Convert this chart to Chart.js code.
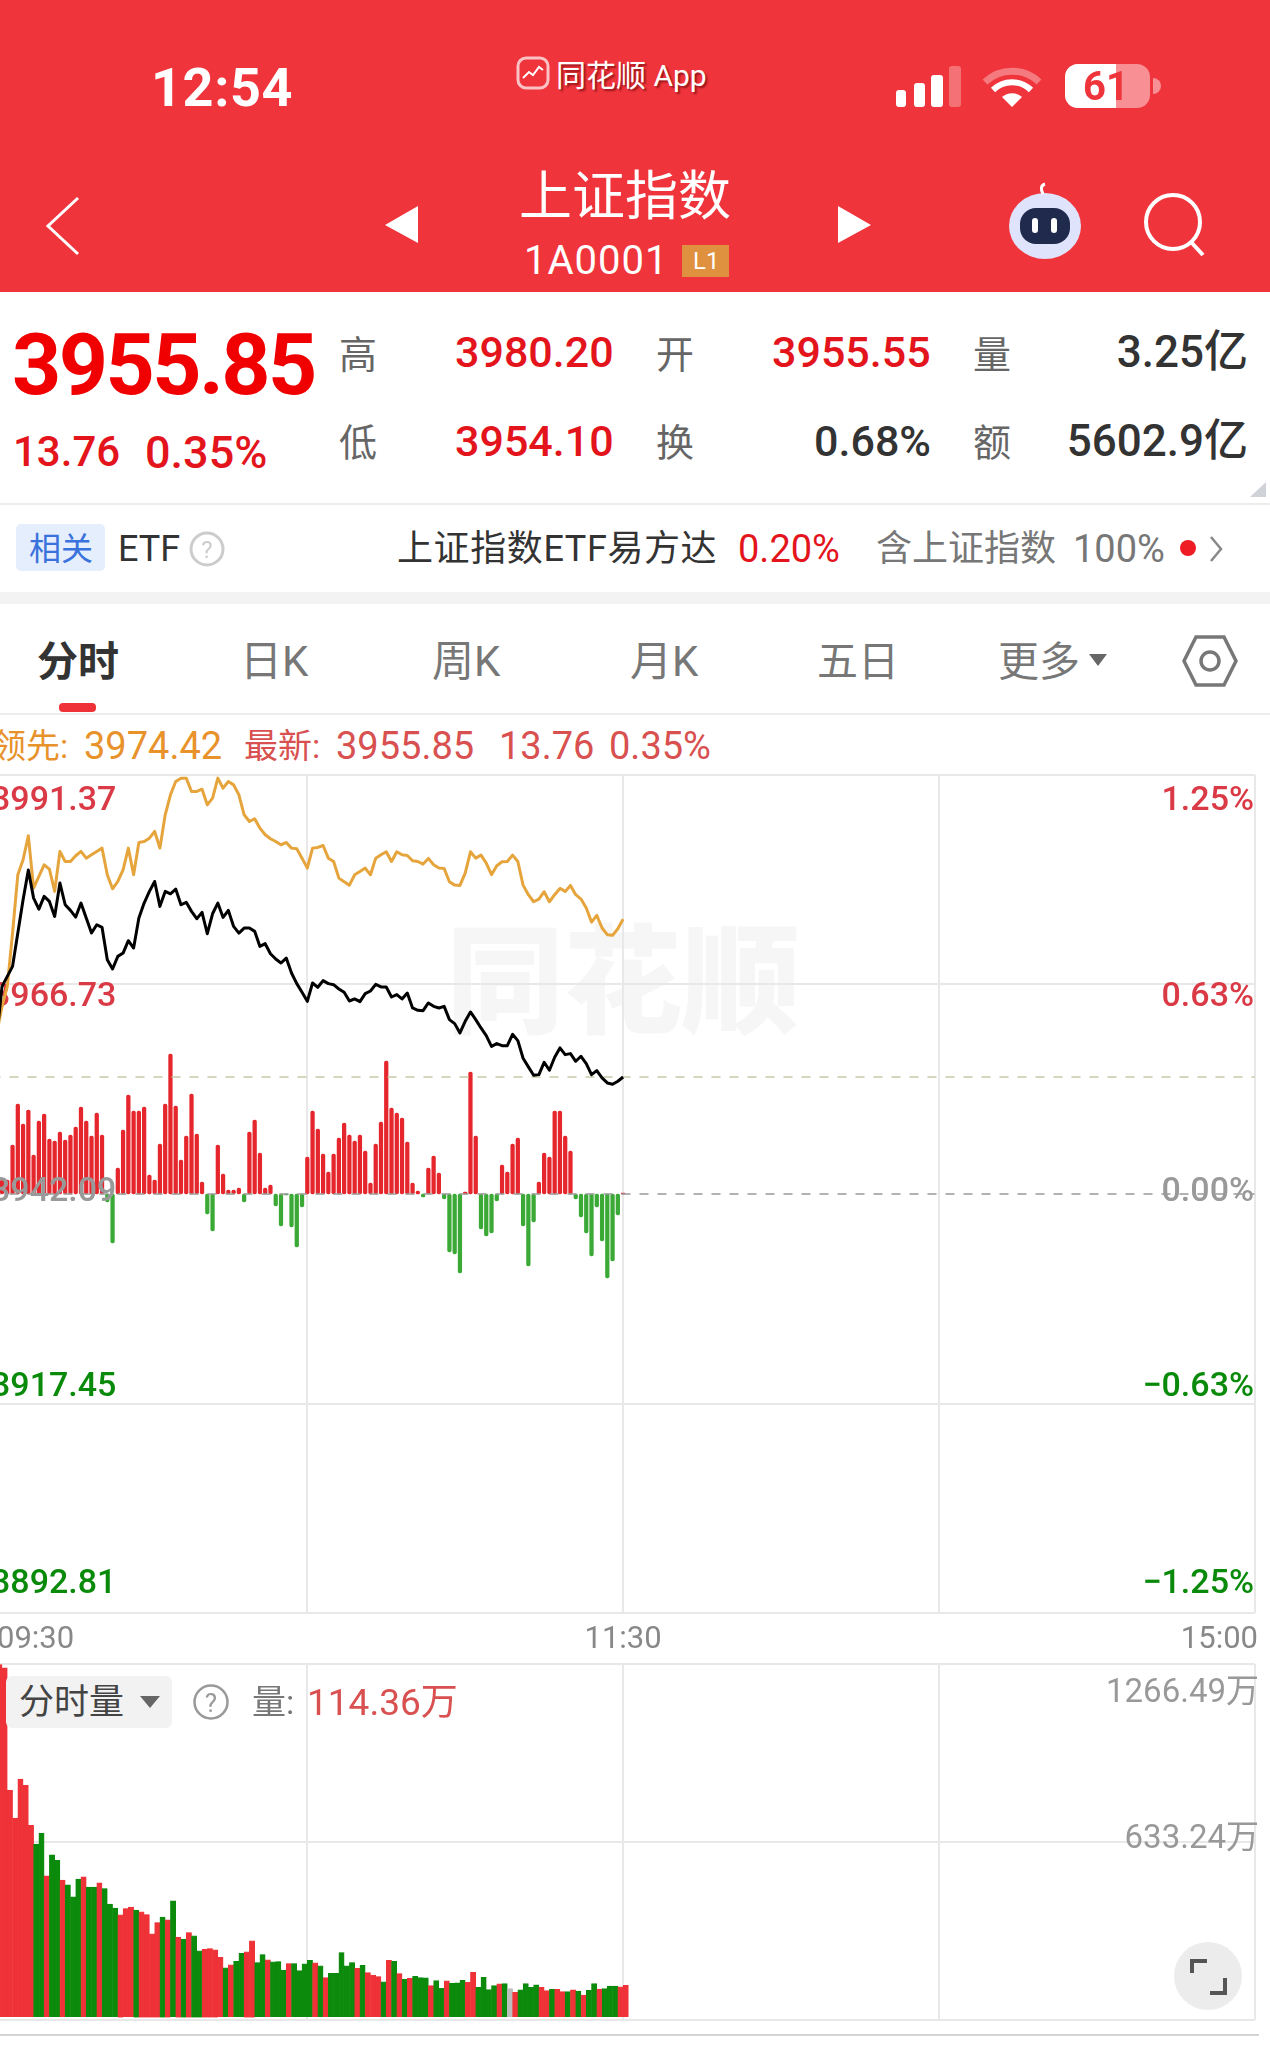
<!DOCTYPE html>
<html lang="zh-CN">
<head>
  <meta charset="UTF-8">
  <title>上证指数 分时</title>
  <script src="https://cdn.jsdelivr.net/npm/chart.js"></script>
  <style>
    html, body { margin: 0; padding: 0; background: #fff; }
    body { width: 1270px; height: 2060px; position: relative; overflow: hidden;
           font-family: Roboto, "Noto Sans CJK SC", sans-serif; }
    .t { position: absolute; white-space: pre; transform: translateY(-50%); line-height: 1; }
    .box { position: absolute; }
    svg { position: absolute; left: 0; top: 0; }
    canvas { position: absolute; display: block; }
    .num { color: #e3141c; font-size: 43px; font-weight: 500; }
    .dark { color: #333; font-size: 43px; font-weight: 500; }
    .lab { color: #666; font-size: 38px; }
    .tab { color: #777; font-size: 42px; }
  </style>
</head>
<body>
  <!-- header -->
  <div class="box" style="left:0;top:0;width:1270px;height:292px;background:#f0343c"></div>
  <div class="t" style="left:151px;top:88px;color:#fff;font-size:54px;font-weight:700;letter-spacing:.6px">12:54</div>
  <div class="t" style="left:556px;top:76px;color:#fff;font-size:30px;text-shadow:2px 2px 2px rgba(90,0,0,.6)">同花顺 App</div>
  <div class="t" style="left:519px;top:197px;color:#fff;font-size:53px">上证指数</div>
  <div class="t" style="left:524px;top:261px;color:#fff;font-size:40px;letter-spacing:1px">1A0001</div>
  <div class="box" style="left:682px;top:245px;width:47px;height:32px;background:#e0913f"></div>
  <div class="t" style="left:693px;top:261px;color:#fff;font-size:24px">L1</div>
  <div class="t" style="left:1083px;top:87px;color:#f0343c;font-size:40px;font-weight:700;z-index:2">61</div>

  <!-- quote block -->
  <div class="t" style="left:12px;top:365px;color:#f00000;font-size:86px;font-weight:700;letter-spacing:-2.6px">3955.85</div>
  <div class="t" style="left:13px;top:452px;color:#e3141c;font-size:42px;font-weight:500">13.76</div>
  <div class="t" style="left:145px;top:452px;color:#e3141c;font-size:45px;font-weight:500">0.35%</div>
  <div class="t lab" style="left:339px;top:355px">高</div>
  <div class="t num" style="left:455px;top:352px">3980.20</div>
  <div class="t lab" style="left:656px;top:355px">开</div>
  <div class="t num" style="left:772px;top:352px">3955.55</div>
  <div class="t lab" style="left:973px;top:355px">量</div>
  <div class="t dark" style="right:22px;top:352px;font-size:44px">3.25亿</div>
  <div class="t lab" style="left:339px;top:443px">低</div>
  <div class="t num" style="left:455px;top:441px">3954.10</div>
  <div class="t lab" style="left:656px;top:443px">换</div>
  <div class="t dark" style="right:339px;top:441px">0.68%</div>
  <div class="t lab" style="left:973px;top:443px">额</div>
  <div class="t dark" style="right:22px;top:441px;font-size:44px">5602.9亿</div>
  <div class="box" style="left:0;top:503px;width:1270px;height:2px;background:#ececec"></div>

  <!-- related row -->
  <div class="box" style="left:16px;top:524px;width:89px;height:47px;background:#e4eefc;border-radius:5px"></div>
  <div class="t" style="left:29px;top:549px;color:#3a72dd;font-size:32px">相关</div>
  <div class="t" style="left:118px;top:549px;color:#333;font-size:36px">ETF</div>
  <div class="t" style="left:397px;top:549px;color:#333;font-size:36px;letter-spacing:.6px">上证指数ETF易方达</div>
  <div class="t" style="left:738px;top:549px;color:#e3141c;font-size:38px">0.20%</div>
  <div class="t" style="left:876px;top:549px;color:#777;font-size:36px">含上证指数</div>
  <div class="t" style="left:1073px;top:549px;color:#777;font-size:38px">100%</div>
  <div class="box" style="left:0;top:592px;width:1270px;height:12px;background:#f3f3f3"></div>

  <!-- tabs -->
  <div class="t" style="left:37px;top:662px;color:#333;font-size:41px;font-weight:700">分时</div>
  <div class="t tab" style="left:240px;top:662px">日K</div>
  <div class="t tab" style="left:432px;top:662px">周K</div>
  <div class="t tab" style="left:630px;top:662px">月K</div>
  <div class="t tab" style="left:817px;top:662px;font-size:41px">五日</div>
  <div class="t tab" style="left:998px;top:662px;font-size:41px">更多</div>
  <div class="box" style="left:59px;top:703px;width:37px;height:9px;background:#ee3237;border-radius:4px"></div>
  <div class="box" style="left:0;top:713px;width:1270px;height:2px;background:#ececec"></div>

  <!-- latest quote row -->
  <div class="t" style="left:-8px;top:746px;color:#e8922c;font-size:34px">领先:</div>
  <div class="t" style="left:84px;top:746px;color:#e8922c;font-size:38px">3974.42</div>
  <div class="t" style="left:244px;top:746px;color:#d8504f;font-size:34px">最新:</div>
  <div class="t" style="left:336px;top:746px;color:#d8504f;font-size:38px">3955.85</div>
  <div class="t" style="left:499px;top:746px;color:#d8504f;font-size:38px">13.76</div>
  <div class="t" style="left:609px;top:746px;color:#d8504f;font-size:38px">0.35%</div>

  <!-- watermark behind the price panel -->
  <div class="t" style="left:446px;top:984px;color:#f6f6f6;font-size:118px;font-weight:900">同花顺</div>

  <canvas id="priceChart" style="left:-9px;top:765px" width="1279" height="895"></canvas>
  <canvas id="volumeChart" style="left:-9px;top:1654px" width="1279" height="368"></canvas>

  <!-- volume panel controls sit above the bars -->
  <div class="box" style="left:6px;top:1676px;width:166px;height:52px;background:#f2f2f2;border-radius:6px"></div>
  <div class="t" style="left:19px;top:1702px;color:#444;font-size:35px">分时量</div>
  <div class="t" style="left:252px;top:1702px;color:#777;font-size:34px">量:</div>
  <div class="t" style="left:307px;top:1702px;color:#d8504f;font-size:37px">114.36万</div>
  <div class="box" style="left:0;top:2034px;width:1259px;height:2px;background:#d4d4d4"></div>

  <svg width="1270" height="2060" style="pointer-events:none">
    <!-- status bar -->
    <g fill="#fff">
      <rect x="896" y="90" width="10" height="17" rx="3"/>
      <rect x="914" y="83" width="11" height="24" rx="3"/>
      <rect x="931" y="75" width="12" height="32" rx="3"/>
      <rect x="949" y="66" width="12" height="41" rx="3" fill-opacity=".3"/>
      <path d="M985 82 a39 39 0 0 1 54 0" fill="none" stroke="#fff" stroke-opacity=".35" stroke-width="7"/>
      <path d="M993 90 a27 27 0 0 1 38 0" fill="none" stroke="#fff" stroke-width="6"/>
      <path d="M1002 97 a15 15 0 0 1 20 0 l-10 10z"/>
      <rect x="1065" y="64" width="85" height="44" rx="13" fill-opacity=".45"/>
      <path d="M1078 64 h38 v44 h-38 a13 13 0 0 1 -13 -13 v-18 a13 13 0 0 1 13 -13z"/>
      <path d="M1153 78 a8 8 0 0 1 0 16z" fill-opacity=".45"/>
    </g>
    <!-- app badge -->
    <rect x="518" y="58" width="30" height="30" rx="8" fill="#f0343c" stroke="#fff" stroke-opacity=".7" stroke-width="3"/>
    <path d="M523 78 l6 -6 4 3 6 -8 4 3" fill="none" stroke="#fff" stroke-width="2"/>
    <!-- nav -->
    <path d="M78 198 L48 226 L78 254" fill="none" stroke="#fff" stroke-width="3"/>
    <path d="M418 206 L385 225 L418 243z M838 206 L871 225 L838 243z" fill="#fff"/>
    <ellipse cx="1045" cy="226" rx="36" ry="33" fill="#dfe3fb"/>
    <path d="M1043 194 q-4 -8 2 -10" fill="none" stroke="#fff" stroke-width="3"/>
    <rect x="1020" y="208" width="50" height="36" rx="16" fill="#1f2a4d"/>
    <rect x="1032" y="218" width="6" height="15" rx="3" fill="#fff"/>
    <rect x="1051" y="218" width="6" height="15" rx="3" fill="#fff"/>
    <circle cx="1173" cy="222" r="27" fill="none" stroke="#fff" stroke-width="4"/>
    <path d="M1191 242 L1203 255" stroke="#fff" stroke-width="4"/>
    <!-- quote corner and related row -->
    <path d="M1266 482 V497 H1250z" fill="#cfd3d8"/>
    <circle cx="207" cy="549" r="16" fill="none" stroke="#ccc" stroke-width="3"/>
    <text x="207" y="558" text-anchor="middle" font-size="24" fill="#ccc">?</text>
    <circle cx="1188" cy="548" r="8" fill="#ee1c25"/>
    <path d="M1211 537 L1221 549 L1211 561" fill="none" stroke="#888" stroke-width="2.5"/>
    <!-- tabs -->
    <path d="M1089 654 H1107 L1098 666z" fill="#666"/>
    <path d="M1196 637 H1224 L1236 661 L1224 685 H1196 L1184 661z" fill="none" stroke="#777" stroke-width="3.5"/>
    <circle cx="1210" cy="661" r="9" fill="none" stroke="#777" stroke-width="3.5"/>
    <!-- volume panel -->
    <path d="M140 1696 H160 L150 1708z" fill="#666"/>
    <circle cx="211" cy="1702" r="16.5" fill="none" stroke="#999" stroke-width="2.5"/>
    <text x="211" y="1712" text-anchor="middle" font-size="26" fill="#999">?</text>
    <circle cx="1208" cy="1976" r="34" fill="#ececec"/>
    <path d="M1192 1973 V1961 H1207 M1225 1978 V1993 H1210" fill="none" stroke="#555" stroke-width="4"/>
  </svg>

  <script>
    // minutes from 09:30, one value a minute up to 11:30
    const prevClose = 3942.09;
    const lastPrice = 3955.85;
    const priceTicks = [3991.37, 3966.73, 3942.09, 3917.45, 3892.81];
    const percentTicks = ['1.25%', '0.63%', '0.00%', '\u22120.63%', '\u22121.25%'];
    const timeTicks = [0, 120, 240];
    const timeLabels = ['09:30', '11:30', '15:00'];
    const volumeTicks = [1266.49, 633.24];
    const volumeLabels = ['1266.49万', '633.24万'];

    const indexLine = [
      3955.55, 3960.64, 3966.51, 3967.69, 3968.86, 3972.78, 3976.70, 3980.20, 3976.89, 3975.60,
      3977.09, 3976.50, 3974.74, 3978.66, 3976.11, 3975.45, 3974.66, 3976.31, 3974.54, 3972.78,
      3973.76, 3973.45, 3969.65, 3968.55, 3970.04, 3970.43, 3971.88, 3971.02, 3974.54, 3976.31,
      3977.68, 3978.85, 3975.92, 3977.68, 3977.40, 3977.95, 3976.11, 3976.39, 3975.33, 3974.47,
      3975.21, 3972.70, 3975.05, 3976.31, 3974.62, 3975.45, 3973.56, 3972.78, 3973.37, 3973.37,
      3972.98, 3971.21, 3971.53, 3970.35, 3969.73, 3969.26, 3969.84, 3968.08, 3966.83, 3965.81,
      3964.75, 3966.91, 3966.40, 3967.18, 3966.83, 3966.71, 3966.20, 3965.81, 3964.79, 3965.03,
      3964.71, 3965.65, 3965.97, 3966.75, 3966.44, 3966.44, 3965.26, 3965.54, 3965.03, 3965.73,
      3963.97, 3963.69, 3963.65, 3964.56, 3964.16, 3963.97, 3964.16, 3962.60, 3962.13, 3961.03,
      3962.40, 3963.50, 3962.60, 3961.62, 3960.72, 3959.46, 3959.78, 3959.54, 3959.54, 3960.87,
      3960.13, 3958.05, 3957.04, 3956.06, 3956.13, 3957.58, 3956.64, 3958.17, 3959.27, 3958.48,
      3958.60, 3957.70, 3958.29, 3957.43, 3956.13, 3956.60, 3955.74, 3955.15, 3955.00, 3955.35,
      3955.85
    ];
    const leadLine = [
      3955.55, 3961.03, 3964.16, 3966.51, 3972.78, 3979.64, 3981.40, 3984.22, 3978.07, 3979.44,
      3980.81, 3980.30, 3977.68, 3982.38, 3981.20, 3981.20, 3981.87, 3982.38, 3981.59, 3981.99,
      3982.38, 3982.77, 3979.64, 3977.99, 3978.85, 3980.22, 3982.77, 3979.64, 3983.44, 3983.55,
      3983.94, 3984.73, 3982.77, 3986.69, 3989.04, 3990.60, 3991.00, 3991.00, 3989.43, 3989.43,
      3989.70, 3987.86, 3988.65, 3991.00, 3989.82, 3990.60, 3990.21, 3989.04, 3986.69, 3985.90,
      3986.22, 3985.12, 3984.34, 3983.87, 3983.55, 3983.16, 3983.44, 3982.77, 3982.69, 3981.59,
      3980.42, 3982.77, 3982.85, 3983.08, 3981.59, 3981.20, 3979.24, 3978.81, 3978.42, 3979.64,
      3980.03, 3980.42, 3979.64, 3981.59, 3981.99, 3982.34, 3981.20, 3982.34, 3981.99, 3981.91,
      3981.28, 3981.20, 3980.89, 3981.56, 3980.81, 3980.42, 3980.38, 3978.81, 3978.42, 3978.38,
      3979.83, 3982.34, 3981.59, 3981.95, 3981.01, 3979.64, 3980.69, 3981.16, 3981.20, 3981.95,
      3981.20, 3978.42, 3977.29, 3976.46, 3976.78, 3977.64, 3976.46, 3977.29, 3978.03, 3977.68,
      3978.38, 3977.29, 3976.78, 3975.72, 3974.07, 3974.86, 3973.37, 3972.59, 3972.51, 3973.29,
      3974.42
    ];
    // red/green strength bars around the zero line
    const strengthBars = [
      0, 12, 14, 14, 49, 90, 70, 84, 39, 73,
      80, 55, 53, 62, 54, 59, 67, 87, 73, 58,
      81, 59, -8, -49, 26, 64, 99, 83, 83, 87,
      19, 14, 50, 90, 140, 88, 34, 58, 100, 60,
      12, -20, -37, 49, 20, 4, 4, 6, -8, 62,
      74, 41, 6, 9, -12, -32, -1, -33, -53, -13,
      37, 83, 65, 40, 22, 40, 56, 71, 59, 53,
      59, 43, 11, 50, 72, 133, 86, 81, 76, 52,
      11, 3, -3, 26, 38, 21, -5, -58, -60, -79,
      2, 122, 58, -35, -42, -39, -7, 29, 22, 50,
      56, -32, -72, -28, 12, 41, 37, 83, 83, 58,
      43, -5, -23, -39, -62, -13, -47, -84, -67, -21,
      1
    ];
    const volumeBars = [
      1266.49, 1264, 1252.8, 817, 718.4, 857.4, 834.8, 692.3, 625.8, 663.8,
      513, 587.8, 567.6, 497.5, 481, 438.1, 501.1, 509.4, 472.6, 472.6,
      488, 467.9, 412, 397.8, 374, 396.6, 401.4, 390.7, 384.7, 375.2,
      306.3, 346.7, 365.7, 356.2, 423.9, 294.5, 287.4, 311.1, 299.2, 245.8,
      251.7, 254.1, 249.4, 223.2, 185.2, 195.9, 209, 237.5, 242.2, 281.4,
      204.2, 232.7, 213.7, 206.6, 207.8, 176.9, 200.7, 200.7, 175.7, 199.5,
      212.5, 203, 192.4, 150.8, 166.2, 166.3, 239.9, 192.4, 204.2, 184,
      194.8, 168.6, 159.1, 154.4, 135.4, 212.6, 209, 165.1, 144.9, 148.4,
      155.6, 150.8, 149.6, 122.3, 140.1, 112.8, 139, 130.6, 131.8, 141.3,
      134.2, 169.8, 116.4, 152, 108, 122.3, 128.3, 129.4, 111.6, 98.6,
      106.9, 129.4, 116.4, 124.7, 116.4, 104.5, 109.3, 109.3, 100.9, 100.9,
      106.9, 103.3, 89, 105.7, 129.4, 110.4, 111.6, 121.1, 121.1, 117.6,
      123.5
    ];
    // r up, g down, n flat
    const volumeDirs = [
      'rrrrrrrrgg', 'rggrgggrgg', 'rgggrrrgrr', 'rrgrgrgrgg', 'rrrrgrggrr', 'ggrgggrggg',
      'grgrgggggr', 'grrrgrgrgr', 'gggrggrggg', 'rrggggrgnr', 'ggggrrgrrg', 'rgrggrgggr', 'r'
    ].join('').split('');

    const gridColor = '#e8e8e8';
    const upRed = '#e5262c';
    const downGreen = '#3aa935';
    const volRed = '#ee3237';
    const volGreen = '#0b8a0b';
    const volFlat = '#bdbdbd';
    const priceColors = ['#d93a45', '#d93a45', '#999', '#0a8a0a', '#0a8a0a'];
    const priceOffsets = [26, 13, -2, -16, -29];

    function linePoints(values) {
      return values.map((v, i) => ({ x: i, y: v }));
    }

    // x scale shared by both panels: the whole session, grid every hour
    function timeScale() {
      return {
        type: 'linear', min: 0, max: 240, offset: false,
        afterBuildTicks: s => { s.ticks = [0, 60, 120, 180, 240].map(value => ({ value })); },
        ticks: { display: false },
        border: { display: false },
        grid: {
          offset: false, drawTicks: false, lineWidth: 2,
          color: c => (c.tick.value === 0 ? 'transparent' : gridColor)
        }
      };
    }

    const priceLabels = {
      id: 'priceLabels',
      beforeDatasetsDraw(chart) {
        const { ctx, chartArea } = chart;
        const y = chart.scales.y;
        ctx.save();
        ctx.font = '500 34px Roboto';
        ctx.textBaseline = 'middle';
        priceTicks.forEach((p, i) => {
          if (i === 2) return;
          const py = y.getPixelForValue(p) + priceOffsets[i];
          ctx.fillStyle = priceColors[i];
          ctx.textAlign = 'left';
          ctx.fillText(p.toFixed(2), 0, py);
          ctx.textAlign = 'right';
          ctx.fillText(percentTicks[i], 1263, py);
        });
        ctx.font = '31px Roboto';
        ctx.fillStyle = '#888';
        ctx.textAlign = 'left';
        ctx.fillText(timeLabels[0], 6, chartArea.bottom + 27);
        ctx.textAlign = 'center';
        ctx.fillText(timeLabels[1], chart.scales.x.getPixelForValue(timeTicks[1]), chartArea.bottom + 27);
        ctx.textAlign = 'right';
        ctx.fillText(timeLabels[2], 1267, chartArea.bottom + 27);
        ctx.restore();
      },
      afterDatasetsDraw(chart) {
        // the zero label sits over the bars
        const { ctx } = chart;
        const py = chart.scales.y.getPixelForValue(priceTicks[2]) + priceOffsets[2];
        ctx.save();
        ctx.font = '500 34px Roboto';
        ctx.textBaseline = 'middle';
        ctx.fillStyle = priceColors[2];
        ctx.textAlign = 'left';
        ctx.fillText(priceTicks[2].toFixed(2), 0, py);
        ctx.textAlign = 'right';
        ctx.fillText(percentTicks[2], 1263, py);
        ctx.restore();
      }
    };

    new Chart(document.getElementById('priceChart').getContext('2d'), {
      type: 'line',
      data: {
        datasets: [
          { type: 'line', data: linePoints(indexLine), borderColor: '#000', borderWidth: 3, order: 0,
            pointRadius: 0, tension: 0, yAxisID: 'y', borderJoinStyle: 'round' },
          { type: 'line', data: linePoints(leadLine), borderColor: '#e6a53c', borderWidth: 3, order: 1,
            pointRadius: 0, tension: 0, yAxisID: 'y', borderJoinStyle: 'round' },
          { type: 'line', data: [{ x: 0, y: lastPrice }, { x: 240, y: lastPrice }], borderColor: '#c9c9a6',
            borderWidth: 1.5, borderDash: [9, 9], pointRadius: 0, order: 2, yAxisID: 'y' },
          { type: 'line', data: [{ x: 0, y: prevClose }, { x: 240, y: prevClose }], borderColor: '#999',
            borderWidth: 1.5, borderDash: [9, 9], pointRadius: 0, order: 3, yAxisID: 'y' },
          { type: 'bar', data: linePoints(strengthBars), yAxisID: 'strength', order: 4, barThickness: 3.6,
            borderRadius: 1.8, borderSkipped: false,
            backgroundColor: strengthBars.map(v => (v < 0 ? downGreen : upRed)) }
        ]
      },
      options: {
        responsive: false,
        animation: false,
        events: [],
        layout: { padding: { left: 0.5, right: 15.3, top: 10, bottom: 47 } },
        plugins: { legend: { display: false }, tooltip: { enabled: false } },
        scales: {
          x: timeScale(),
          y: {
            min: 3892.81, max: 3991.37,
            afterBuildTicks: s => { s.ticks = priceTicks.map(value => ({ value })); },
            ticks: { display: false },
            border: { display: false },
            grid: {
              drawTicks: false, lineWidth: 2,
              color: c => (c.tick.value === prevClose ? 'transparent' : gridColor)
            }
          },
          strength: { display: false, min: -419, max: 419 }
        }
      },
      plugins: [priceLabels]
    });

    const volumeAxisLabels = {
      id: 'volumeAxisLabels',
      afterDatasetsDraw(chart) {
        const { ctx } = chart;
        ctx.save();
        ctx.font = '33px Roboto, "Noto Sans CJK SC"';
        ctx.fillStyle = '#999';
        ctx.textAlign = 'right';
        ctx.textBaseline = 'middle';
        ctx.fillText(volumeLabels[0], 1268, chart.scales.y.getPixelForValue(volumeTicks[0]) + 30);
        ctx.fillText(volumeLabels[1], 1268, chart.scales.y.getPixelForValue(volumeTicks[1]) - 2);
        ctx.restore();
      }
    };

    new Chart(document.getElementById('volumeChart').getContext('2d'), {
      type: 'bar',
      data: {
        datasets: [{
          data: volumeBars.map((v, i) => ({ x: i + 0.5, y: v })),
          base: 10.5,
          barPercentage: 1,
          categoryPercentage: 1,
          borderWidth: 0.6,
          borderColor: volumeDirs.map(d => (d === 'r' ? volRed : d === 'g' ? volGreen : volFlat)),
          backgroundColor: volumeDirs.map(d => (d === 'r' ? volRed : d === 'g' ? volGreen : volFlat))
        }]
      },
      options: {
        responsive: false,
        animation: false,
        events: [],
        layout: { padding: { left: 0.5, right: 15.3, top: 10, bottom: 2 } },
        plugins: { legend: { display: false }, tooltip: { enabled: false } },
        scales: {
          x: timeScale(),
          y: {
            min: 0, max: 1266.49,
            afterBuildTicks: s => { s.ticks = [0].concat(volumeTicks).map(value => ({ value })); },
            ticks: { display: false },
            border: { display: false },
            grid: { drawTicks: false, lineWidth: 2, color: gridColor }
          }
        }
      },
      plugins: [volumeAxisLabels]
    });
  </script>
</body>
</html>
